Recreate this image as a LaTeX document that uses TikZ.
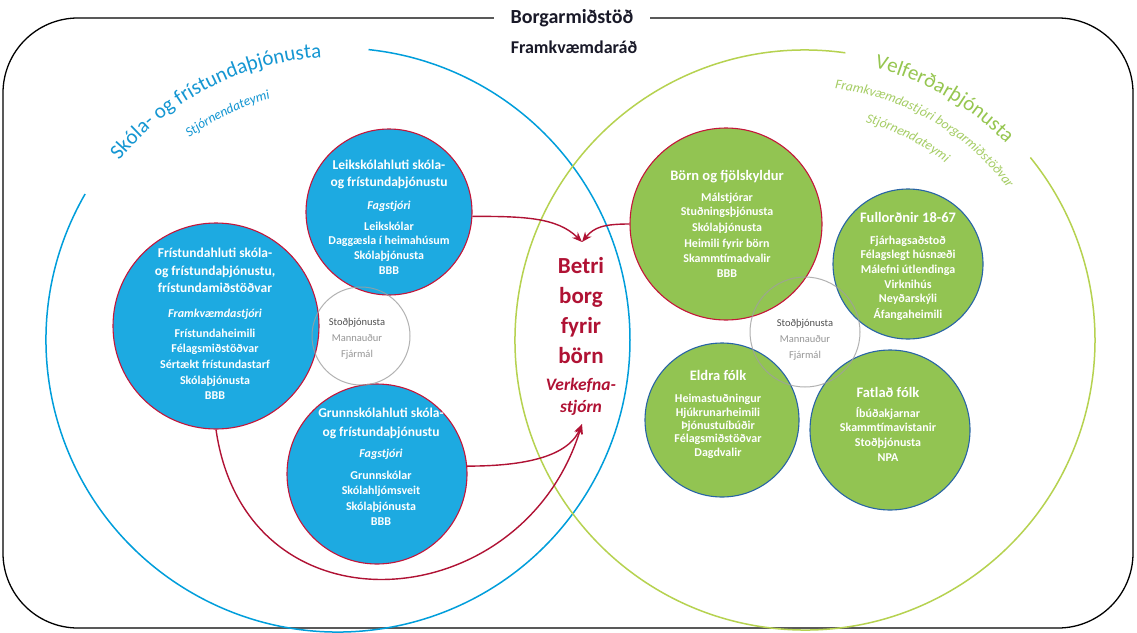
\documentclass[tikz,border=0pt]{standalone}
\usepackage{fontspec}
\setmainfont{Carlito}
\usetikzlibrary{arrows.meta,decorations.text}
\definecolor{bigblue}{RGB}{0,158,219}
\definecolor{bluetext}{RGB}{20,150,210}
\definecolor{bluefill}{RGB}{29,170,225}
\definecolor{redb}{RGB}{196,22,58}
\definecolor{greenfill}{RGB}{146,196,82}
\definecolor{biggreen}{RGB}{182,210,80}
\definecolor{greentext}{RGB}{150,198,80}
\definecolor{greentext2}{RGB}{165,205,100}
\definecolor{dblue}{RGB}{40,100,165}
\definecolor{crim}{RGB}{176,18,52}
\definecolor{titlec}{RGB}{25,25,40}
\definecolor{stodc}{RGB}{80,80,80}
\definecolor{stodl}{RGB}{150,150,150}
\newcommand{\fsz}[1]{\fontsize{#1}{#1}\selectfont}
\begin{document}
\begin{tikzpicture}[x=1pt,y=-1pt,
  bluec/.style={circle,fill=bluefill,draw=redb,line width=1.1pt,inner sep=0pt},
  greenc/.style={circle,fill=greenfill,draw=dblue,line width=1.1pt,inner sep=0pt},
  stodcirc/.style={circle,draw=gray!75,draw opacity=0.8,line width=1pt,inner sep=0pt},
  ttl/.style={anchor=base,yshift=-4.5pt,text=white,font=\bfseries\fsz{13.5},inner sep=0pt},
  gttl/.style={anchor=base,yshift=-5pt,text=white,font=\bfseries\fsz{14.5},inner sep=0pt},
  itm/.style={anchor=base,yshift=-4pt,text=white,font=\bfseries\fsz{12},inner sep=0pt},
  rol/.style={anchor=base,yshift=-4pt,text=white,font=\bfseries\itshape\fsz{12},inner sep=0pt},
  stodt/.style={anchor=base,yshift=-3.5pt,font=\fsz{10.5},inner sep=0pt},
  bigt/.style={anchor=base,text=crim,font=\bfseries\fsz{23},inner sep=0pt},
  bigi/.style={anchor=base,text=crim,font=\bfseries\itshape\fsz{17.5},inner sep=0pt},
  arw/.style={draw=crim,line width=1.4pt,-{Stealth[length=10pt,width=8pt]}}
]
\useasboundingbox (0,0) rectangle (1137,632);
\fill[white] (0,0) rectangle (1137,632);

% outer frame
\draw[line width=1.3pt,rounded corners=75pt] (3,18) rectangle (1133,628);
\node[fill=white,inner xsep=17pt,inner ysep=2pt,text=titlec,font=\bfseries\fsz{20}] (title) at (572,18) {Borgarmiðstöð};
\node[text=titlec,font=\bfseries\fsz{18}] (fkr) at (574,47) {Framkvæmdaráð};

% big circles with gaps
\draw[bigblue,line width=1.5pt,shift={(338,340)}] (-150:292) arc[start angle=-150,end angle=-444,radius=292];
\draw[biggreen,line width=1.5pt,shift={(805,340)}] (-82:290) arc[start angle=-82,end angle=-399,radius=290];

% texts along arcs
\path[shift={(338,340)},decorate,decoration={text along path,text align=center,
  text={|\color{bluetext}\fsz{21}|Skóla- og frístundaþjónusta}}]
  (-157:283) arc[start angle=-157,end angle=-77,radius=283];
\path[shift={(338,340)},decorate,decoration={text along path,text align=center,
  text={|\color{bluetext}\itshape\fsz{13.5}|Stjórnendateymi}}]
  (-156:251) arc[start angle=-156,end angle=-76,radius=251];
\path[shift={(805,340)},decorate,decoration={text along path,text align=center,
  text={|\color{greentext}\fsz{21}|Velferðarþjónusta}}]
  (-100:281) arc[start angle=-100,end angle=-20,radius=281];
\path[shift={(805,340)},decorate,decoration={text along path,text align=center,
  text={|\color{greentext2}\itshape\fsz{13.5}|Framkvæmdastjóri borgarmiðstöðvar}}]
  (-110:253) arc[start angle=-110,end angle=-10,radius=253];
\path[shift={(805,340)},decorate,decoration={text along path,text align=center,
  text={|\color{greentext2}\itshape\fsz{13.5}|Stjórnendateymi}}]
  (-103:226) arc[start angle=-103,end angle=-23,radius=226];

% small circles
\node[bluec,minimum size=166pt] (leik) at (389,212) {};
\node[bluec,minimum size=206pt] (frist) at (216,326) {};
\node[bluec,minimum size=180pt] (grunn) at (377,474) {};
\node[greenc,draw=redb,minimum size=192pt] (born) at (726,224) {};
\node[greenc,minimum size=150pt] (full) at (908,264) {};
\node[greenc,minimum size=154pt] (eldra) at (722,420) {};
\node[greenc,minimum size=160pt] (fatl) at (890,430) {};
\node[stodcirc,minimum size=98pt] (stodL) at (361,336) {};
\node[stodcirc,minimum size=110pt] (stodR) at (805,332) {};

% Leikskolahluti
\foreach \yy/\tx [count=\i] in {165/{Leikskólahluti skóla-},182/{og frístundaþjónustu}}
  \node[ttl] (leik-t\i) at (389,\yy) {\tx};
\node[rol] (leik-r) at (389,205) {Fagstjóri};
\foreach \yy/\tx [count=\i] in {226/{Leikskólar},240/{Daggæsla í heimahúsum},255/{Skólaþjónusta},270/{BBB}}
  \node[itm] (leik-i\i) at (389,\yy) {\tx};

% Fristundahluti
\foreach \yy/\tx [count=\i] in {253/{Frístundahluti skóla-},271/{og frístundaþjónustu,},288/{frístundamiðstöðvar}}
  \node[ttl] (frist-t\i) at (215,\yy) {\tx};
\node[rol] (frist-r) at (215,313) {Framkvæmdastjóri};
\foreach \yy/\tx [count=\i] in {333/{Frístundaheimili},348/{Félagsmiðstöðvar},364/{Sértækt frístundastarf},380/{Skólaþjónusta},395/{BBB}}
  \node[itm] (frist-i\i) at (215,\yy) {\tx};

% Grunnskolahluti
\foreach \yy/\tx [count=\i] in {413/{Grunnskólahluti skóla-},432/{og frístundaþjónustu}}
  \node[ttl] (grunn-t\i) at (381,\yy) {\tx};
\node[rol] (grunn-r) at (381,453) {Fagstjóri};
\foreach \yy/\tx [count=\i] in {475/{Grunnskólar},490/{Skólahljómsveit},506/{Skólaþjónusta},521/{BBB}}
  \node[itm] (grunn-i\i) at (381,\yy) {\tx};

% Born og fjolskyldur
\node[gttl] (born-t) at (727,175) {Börn og fjölskyldur};
\foreach \yy/\tx [count=\i] in {197/{Málstjórar},211/{Stuðningsþjónusta},227/{Skólaþjónusta},243/{Heimili fyrir börn},258/{Skammtímadvalir},273/{BBB}}
  \node[itm] (born-i\i) at (727,\yy) {\tx};

% Fullordnir
\node[gttl] (full-t) at (908,217) {Fullorðnir 18-67};
\foreach \yy/\tx [count=\i] in {240/{Fjárhagsaðstoð},254/{Félagslegt húsnæði},269/{Málefni útlendinga},284/{Virknihús},298/{Neyðarskýli},314/{Áfangaheimili}}
  \node[itm] (full-i\i) at (908,\yy) {\tx};

% Eldra folk
\node[gttl] (eldra-t) at (718,375) {Eldra fólk};
\foreach \yy/\tx [count=\i] in {398/{Heimastuðningur},412/{Hjúkrunarheimili},425/{Þjónustuíbúðir},438/{Félagsmiðstöðvar},452/{Dagdvalir}}
  \node[itm] (eldra-i\i) at (718,\yy) {\tx};

% Fatlad folk
\node[gttl] (fatl-t) at (888,392) {Fatlað fólk};
\foreach \yy/\tx [count=\i] in {413/{Íbúðakjarnar},427/{Skammtímavistanir},442/{Stoðþjónusta},457/{NPA}}
  \node[itm] (fatl-i\i) at (888,\yy) {\tx};

% Stodthjonusta
\node[stodt,text=stodc] (stodL-1) at (357,322) {Stoðþjónusta};
\node[stodt,text=stodl] (stodL-2) at (357,338) {Mannauður};
\node[stodt,text=stodl] (stodL-3) at (357,354) {Fjármál};
\node[stodt,text=stodc] (stodR-1) at (805,323) {Stoðþjónusta};
\node[stodt,text=stodl] (stodR-2) at (805,339) {Mannauður};
\node[stodt,text=stodl] (stodR-3) at (805,355) {Fjármál};

% centre
\node[bigt] (c1) at (581,273) {Betri};
\node[bigt] (c2) at (581,303) {borg};
\node[bigt] (c3) at (581,333) {fyrir};
\node[bigt] (c4) at (581,363) {börn};
\node[bigi] (c5) at (581,390) {Verkefna-};
\node[bigi] (c6) at (581,412) {stjórn};

% arrows
\coordinate (tipTop) at (582,242);
\coordinate (tipBot) at (582,424);
\draw[arw] (leik.-3) .. controls +(50,0) and +(-25,-25) .. (tipTop);
\draw[arw] (born.west) .. controls +(-25,0) and +(12,-15) .. (tipTop);
\draw[arw] (grunn.5) .. controls +(50,0) and +(-15,35) .. (tipBot);
\draw[arw] (frist.south) .. controls +(30,210) and +(-60,195) .. (tipBot);
\end{tikzpicture}
\end{document}
